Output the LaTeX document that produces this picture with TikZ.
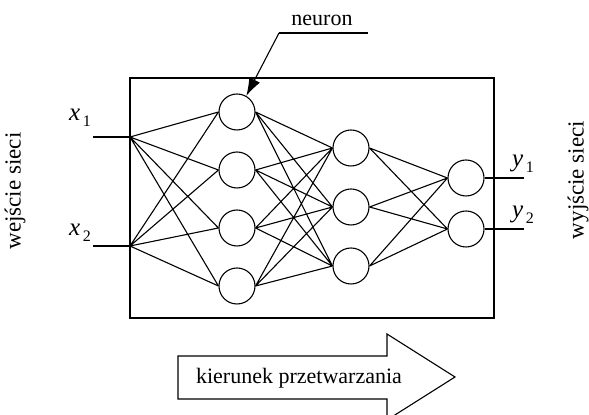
\documentclass[tikz,border=0pt]{standalone}
\usepackage{fontspec}
\setmainfont{Liberation Serif}
\usepackage{tikz}
\usetikzlibrary{
    arrows.meta,
    positioning
}

\tikzset{
    neuron/.style={draw, circle, minimum size=18pt, inner sep=0pt},
    link/.style={line width=0.55pt},
    lbl/.style={font=\fontsize{11}{13}\selectfont},
    side/.style={font=\fontsize{11.5}{13}\selectfont, rotate=90},
    var/.style={font=\fontsize{12.5}{14}\selectfont\itshape}
}
% variable with a low index
\newcommand{\ivar}[2]{#1\raisebox{-0.5ex}{\upshape\fontsize{8}{9}\selectfont\,#2}}

\begin{document}
\begin{tikzpicture}[x=0.5pt, y=-0.5pt, line width=0.55pt]
                        \useasboundingbox (0, 0) rectangle (589, 415);
                        % frame of the network
                        \draw (130, 78) rectangle (494, 318);
                        % neurons
                        \node[neuron] (a1) at (237, 112) {};
                        \node[neuron] (a2) at (237, 170) {};
                        \node[neuron] (a3) at (237, 228) {};
                        \node[neuron] (a4) at (237, 286) {};
                        \node[neuron] (b1) at (351, 148) {};
                        \node[neuron] (b2) at (351, 207) {};
                        \node[neuron] (b3) at (351, 266) {};
                        \node[neuron] (c1) at (466, 178) {};
                        \node[neuron] (c2) at (466, 229) {};
                        % inputs and outputs
                        \coordinate (in1) at (130, 137);
                        \coordinate (in2) at (130, 246);
                        \coordinate (x1end) at (93, 137);
                        \coordinate (x2end) at (93, 246);
                        \coordinate (y1end) at (524, 178);
                        \coordinate (y2end) at (524, 229);
                        \draw[link]
                        (x1end) -- (in1)
                        (x2end) -- (in2)
                        (c1.east) -- (y1end)
                        (c2.east) -- (y2end);
                        \node[var] (x1) at (80, 118) {\ivar{x}{1}};
                        \node[var] (x2) at (80, 233) {\ivar{x}{2}};
                        \node[var] (y1) at (523, 164) {\ivar{y}{1}};
                        \node[var] (y2) at (523, 215) {\ivar{y}{2}};
                        % connections
                        \draw[link]
                        (in1) -- (a1.west) (in1) -- (a2.west) (in1) -- (a3.west) (in1) -- (a4.west)
                        (in2) -- (a1.west) (in2) -- (a2.west) (in2) -- (a3.west) (in2) -- (a4.west)
                        (a1.east) -- (b1.west) (a1.east) -- (b2.west) (a1.east) -- (b3.west)
                        (a2.east) -- (b1.west) (a2.east) -- (b2.west) (a2.east) -- (b3.west)
                        (a3.east) -- (b1.west) (a3.east) -- (b2.west) (a3.east) -- (b3.west)
                        (a4.east) -- (b1.west) (a4.east) -- (b2.west) (a4.east) -- (b3.west)
                        (b1.east) -- (c1.west) (b1.east) -- (c2.west)
                        (b2.east) -- (c1.west) (b2.east) -- (c2.west)
                        (b3.east) -- (c1.west) (b3.east) -- (c2.west);
                        % pointer to a neuron
                        \node[lbl] (neur) at (322, 20) {neuron};
                        \coordinate (nl) at (279, 33);
                        \coordinate (nr) at (368, 33);
                        \draw (nr) -- (nl);
                        \draw[-{Latex[length=9pt, width=6pt]}] (nl) -- (a1.60);
                        % side labels
                        \node[side] (win) at (15, 191) {wejście sieci};
                        \node[side] (wout) at (578, 180) {wyjście sieci};
                        % processing direction
                        \draw
                        (178, 356) -- (387, 356) -- (387, 334) -- (455, 377)
                        -- (387, 420) -- (387, 399) -- (178, 399) -- cycle;
                        \node[lbl] (dir) at (299, 378) {kierunek przetwarzania};
                    \end{tikzpicture}
\end{document}
